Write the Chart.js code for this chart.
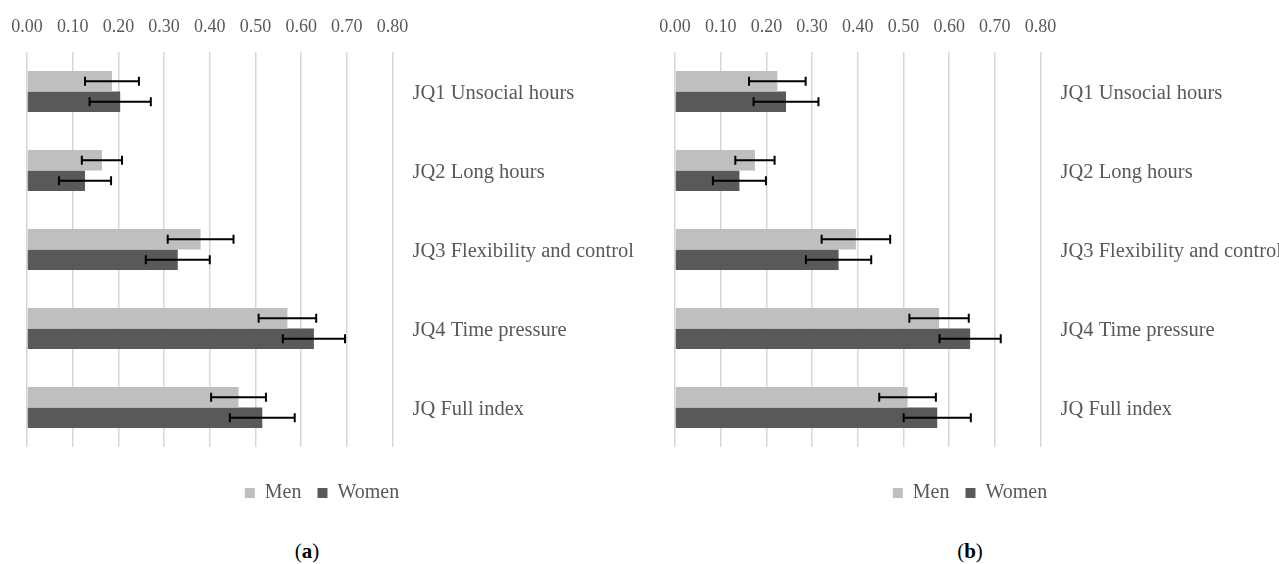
<!DOCTYPE html>
<html>
<head>
<meta charset="utf-8">
<script src="https://cdn.jsdelivr.net/npm/chart.js@4.4.1/dist/chart.umd.min.js"></script>
<style>
  html, body { margin: 0; padding: 0; background: #fff; }
  body { width: 1279px; height: 564px; overflow: hidden; position: relative; }
  .panel { position: absolute; top: 0; width: 652px; height: 520px; }
  .cap { position: absolute; top: 539px; font-family: "Liberation Serif", serif; font-size: 21px; color: #000; transform: translateX(-50%); white-space: nowrap; }
</style>
</head>
<body>
<div class="panel" style="left:-4px"><canvas id="chartA"></canvas></div>
<div class="panel" style="left:644px"><canvas id="chartB"></canvas></div>
<div class="cap" style="left:307px">(<b>a</b>)</div>
<div class="cap" style="left:970px">(<b>b</b>)</div>
<script>
// Job quality dimensions
const categories = ['JQ1 Unsocial hours', 'JQ2 Long hours', 'JQ3 Flexibility and control', 'JQ4 Time pressure', 'JQ Full index'];
const axisTicks = [0, 0.1, 0.2, 0.3, 0.4, 0.5, 0.6, 0.7, 0.8];

// Panel (a)
const menA = [0.186, 0.164, 0.380, 0.570, 0.463];
const menErrA = [0.059, 0.044, 0.072, 0.063, 0.060];
const womenA = [0.204, 0.127, 0.330, 0.628, 0.515];
const womenErrA = [0.067, 0.057, 0.070, 0.068, 0.071];

// Panel (b)
const menB = [0.224, 0.175, 0.396, 0.578, 0.509];
const menErrB = [0.062, 0.043, 0.075, 0.065, 0.062];
const womenB = [0.243, 0.141, 0.358, 0.646, 0.574];
const womenErrB = [0.071, 0.058, 0.0715, 0.067, 0.0735];

const SERIF = '"Liberation Serif", "Times New Roman", serif';
const TEXT = '#595959';

// Draws symmetric error bars (value ± error) on each bar
const errorBars = {
  id: 'errorBars',
  afterDatasetsDraw(chart) {
    const { ctx } = chart;
    const xs = chart.scales.x;
    ctx.save();
    ctx.strokeStyle = '#000';
    ctx.lineWidth = 2;
    chart.data.datasets.forEach((ds, i) => {
      const meta = chart.getDatasetMeta(i);
      meta.data.forEach((bar, j) => {
        const v = ds.data[j], e = ds.errors[j];
        const x1 = xs.getPixelForValue(v - e);
        const x2 = xs.getPixelForValue(v + e);
        const y = bar.y;
        ctx.beginPath();
        ctx.moveTo(x1, y); ctx.lineTo(x2, y);
        ctx.moveTo(x1, y - 4.5); ctx.lineTo(x1, y + 4.5);
        ctx.moveTo(x2, y - 4.5); ctx.lineTo(x2, y + 4.5);
        ctx.stroke();
      });
    });
    ctx.restore();
  }
};

// Empty spacer axis used to reserve room around the plot area
function spacer(position, size) {
  const horizontal = position === 'top' || position === 'bottom';
  return {
    type: 'linear',
    position,
    display: true,
    grid: { display: false, drawTicks: false },
    border: { display: false },
    ticks: { display: false },
    afterFit(s) { if (horizontal) s.height = size; else s.width = size; }
  };
}

function makeChart(id, men, menErr, women, womenErr) {
  return new Chart(document.getElementById(id), {
    type: 'bar',
    data: {
      labels: categories,
      datasets: [
        { label: 'Men', data: men, errors: menErr, backgroundColor: '#bfbfbf', borderWidth: 0 },
        { label: 'Women', data: women, errors: womenErr, backgroundColor: '#595959', borderWidth: 0 }
      ]
    },
    options: {
      indexAxis: 'y',
      responsive: true,
      maintainAspectRatio: false,
      animation: false,
      categoryPercentage: 0.52,
      barPercentage: 1,
      layout: { padding: { left: 0, right: 0, top: 0, bottom: 7 } },
      scales: {
        x: {
          position: 'top',
          min: 0, max: 0.8,
          afterBuildTicks(s) { s.ticks = axisTicks.map(v => ({ value: v })); },
          afterFit(s) { s.height = 52; },
          grid: { color: '#d6d6d6', lineWidth: 1.5, drawTicks: false },
          border: { display: false },
          ticks: {
            padding: 14,
            color: TEXT,
            font: { family: SERIF, size: 18 },
            callback: v => Number(v).toFixed(2)
          }
        },
        y: {
          position: 'right',
          afterFit(s) { s.width = 255.5; },
          grid: { display: false, drawTicks: false },
          border: { display: false },
          ticks: { padding: 20, labelOffset: 2, color: TEXT, font: { family: SERIF, size: 20.5 } }
        },
        padLeft: spacer('left', 31),
        padBottom: spacer('bottom', 20)
      },
      plugins: {
        legend: {
          position: 'bottom',
          labels: {
            boxWidth: 10, boxHeight: 10, padding: 16,
            color: TEXT,
            font: { family: SERIF, size: 20 }
          }
        },
        tooltip: { enabled: false }
      }
    },
    plugins: [errorBars]
  });
}

makeChart('chartA', menA, menErrA, womenA, womenErrA);
makeChart('chartB', menB, menErrB, womenB, womenErrB);
</script>
</body>
</html>
